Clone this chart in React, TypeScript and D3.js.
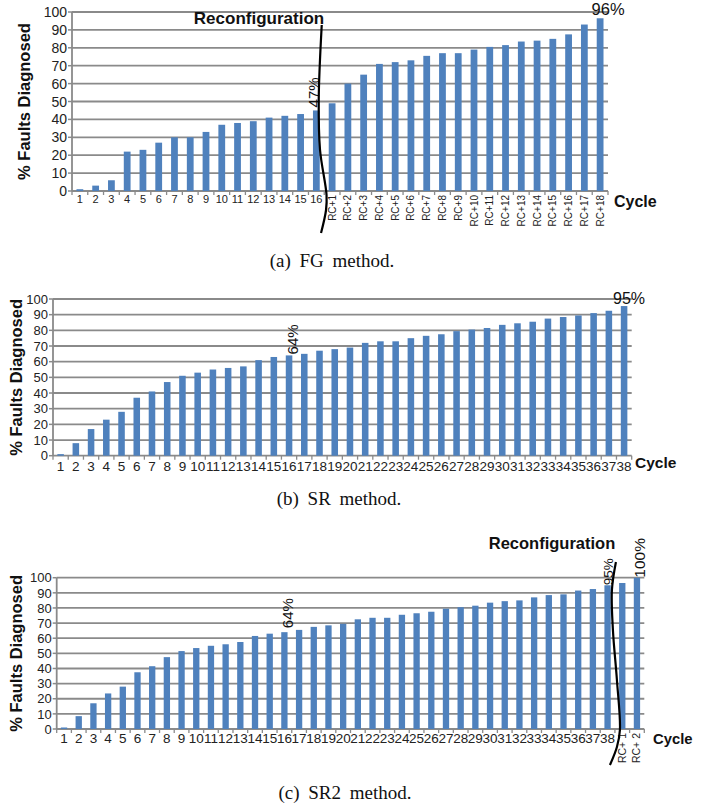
import React from "react";
import * as d3 from "d3";

// y axis ticks shared by all three panels
const yTicks = [0, 10, 20, 30, 40, 50, 60, 70, 80, 90, 100];

// (a) FG method
const fgCycles = [
  "1", "2", "3", "4", "5", "6", "7", "8", "9", "10", "11", "12", "13", "14", "15", "16",
  "RC+1", "RC+2", "RC+3", "RC+4", "RC+5", "RC+6", "RC+7", "RC+8", "RC+9", "RC+10",
  "RC+11", "RC+12", "RC+13", "RC+14", "RC+15", "RC+16", "RC+17", "RC+18",
];
const fgValues = [
  1, 3, 6, 22, 23, 27, 30, 30, 33, 37, 38, 39, 41, 42, 43, 45,
  49, 60, 65, 71, 72, 73, 75.5, 77, 77, 79, 80.5, 81.5, 83.5, 84, 85, 87.5, 93, 96.5,
];

// (b) SR method
const srCycles = [
  "1", "2", "3", "4", "5", "6", "7", "8", "9", "10", "11", "12", "13", "14", "15", "16",
  "17", "18", "19", "20", "21", "22", "23", "24", "25", "26", "27", "28", "29", "30",
  "31", "32", "33", "34", "35", "36", "37", "38",
];
const srValues = [
  1, 8, 17, 23, 28, 37, 41, 47, 51, 53, 55, 56, 57, 61, 63, 64, 65, 67, 68, 69,
  72, 73, 73, 75, 76.5, 77.5, 79.5, 80.5, 81.5, 83.5, 84.5, 85.5, 87.5, 88.5, 89.5, 91, 92.5, 95.5,
];

// (c) SR2 method
const sr2Cycles = [...srCycles, "RC+ 1", "RC+ 2"];
const sr2Values = [
  1, 8.5, 17, 23.5, 28, 37.5, 41.5, 47.5, 51.5, 53.5, 55, 56, 57.5, 61.5, 63, 64, 65.5, 67.5, 68.5, 69.5,
  72.5, 73.5, 73.5, 75.5, 76.5, 77.5, 79.5, 80.5, 81.5, 83.5, 84.5, 85, 87, 88.5, 89, 91.5, 92.5, 95, 96.5, 100,
];

const SANS = "'Liberation Sans', Arial, sans-serif";
const SERIF = "'Liberation Serif', 'Times New Roman', serif";
const BAR = "#4F81BD";
const GRID = "#8a8a8a";

type Note = { text: string; cat: string; rotate: boolean; dx: number; dy: number; size: number };

type PanelProps = {
  cycles: string[];
  values: number[];
  left: number;
  right: number;
  top: number;
  bottom: number;
  yFont: number;
  xFont: number;
  xBaseline: number;
  rcFont: number;
  rcShift: number;
  yLabelX: number;
  cycleX: number;
  cycleBaseline: number;
  cycleFont: number;
  notes: Note[];
  reconf?: { x: number; baseline: number; size: number; wiggle: [number, number][] };
  caption: string;
  captionX: number;
  captionBaseline: number;
};

const Panel = (p: PanelProps) => {
  const x = d3.scaleBand().domain(p.cycles).range([p.left, p.right]).padding(0);
  const y = d3.scaleLinear().domain([0, 100]).range([p.bottom, p.top]);
  const bw = x.bandwidth() * 0.43;
  const cx = (c: string) => (x(c) as number) + x.bandwidth() / 2;
  const valOf = (c: string) => p.values[p.cycles.indexOf(c)];

  let curve: string | null = null;
  if (p.reconf) {
    const firstRC = p.cycles.find((c) => c.startsWith("RC")) as string;
    const bx = x(firstRC) as number;
    curve = d3
      .line<[number, number]>()
      .x((d) => bx + d[0])
      .y((d) => p.bottom + d[1])
      .curve(d3.curveCatmullRom)(p.reconf.wiggle);
  }

  const yMid = (p.top + p.bottom) / 2;

  return (
    <g>
      {yTicks.map((t) => (
        <g key={t}>
          <line x1={p.left} x2={p.right} y1={y(t)} y2={y(t)} stroke={GRID} strokeWidth={1.8} />
          <line x1={p.left - 4} x2={p.left} y1={y(t)} y2={y(t)} stroke={GRID} strokeWidth={1.5} />
          <text
            x={p.left - 5}
            y={y(t)}
            dy="0.36em"
            textAnchor="end"
            fontFamily={SANS}
            fontSize={p.yFont}
            fill="#222"
          >
            {t}
          </text>
        </g>
      ))}
      <line x1={p.left} x2={p.left} y1={p.top} y2={p.bottom} stroke={GRID} strokeWidth={1.8} />
      {[...p.cycles, null].map((c, i) => {
        const xx = c === null ? p.right : (x(c) as number);
        return <line key={i} x1={xx} x2={xx} y1={p.bottom} y2={p.bottom + 4} stroke={GRID} strokeWidth={1.3} />;
      })}

      {p.cycles.map((c, i) => (
        <rect
          key={c}
          x={cx(c) - bw / 2}
          y={y(p.values[i])}
          width={bw}
          height={y(0) - y(p.values[i])}
          fill={BAR}
        />
      ))}

      {p.cycles.map((c) =>
        c.startsWith("RC") ? (
          <text
            key={c}
            transform={`translate(${cx(c) + p.rcShift},${p.bottom + 4}) rotate(-90)`}
            textAnchor="end"
            fontFamily={SANS}
            fontSize={p.rcFont}
            fill="#222"
          >
            {c}
          </text>
        ) : (
          <text
            key={c}
            x={cx(c)}
            y={p.xBaseline}
            textAnchor="middle"
            fontFamily={SANS}
            fontSize={p.xFont}
            fill="#222"
          >
            {c}
          </text>
        )
      )}

      <text
        transform={`translate(${p.yLabelX},${yMid}) rotate(-90)`}
        textAnchor="middle"
        fontFamily={SANS}
        fontWeight="bold"
        fontSize={16.5}
        fill="#111"
      >
        % Faults Diagnosed
      </text>

      <text x={p.cycleX} y={p.cycleBaseline} fontFamily={SANS} fontWeight="bold" fontSize={p.cycleFont} fill="#111">
        Cycle
      </text>

      {p.notes.map((n) => {
        const nx = cx(n.cat) + n.dx;
        const ny = y(valOf(n.cat)) + n.dy;
        return n.rotate ? (
          <text
            key={n.text}
            transform={`translate(${nx},${ny}) rotate(-90)`}
            textAnchor="start"
            fontFamily={SANS}
            fontSize={n.size}
            fill="#111"
          >
            {n.text}
          </text>
        ) : (
          <text key={n.text} x={nx} y={ny} textAnchor="middle" fontFamily={SANS} fontSize={n.size} fill="#111">
            {n.text}
          </text>
        );
      })}

      {p.reconf && (
        <>
          <text
            x={p.reconf.x}
            y={p.reconf.baseline}
            textAnchor="middle"
            fontFamily={SANS}
            fontWeight="bold"
            fontSize={p.reconf.size}
            fill="#111"
          >
            Reconfiguration
          </text>
          <path d={curve as string} fill="none" stroke="#000" strokeWidth={2.2} />
        </>
      )}

      <text
        x={p.captionX}
        y={p.captionBaseline}
        textAnchor="middle"
        fontFamily={SERIF}
        fontSize={19}
        wordSpacing={4}
        fill="#111"
      >
        {p.caption}
      </text>
    </g>
  );
};

const App = () => (
  <svg width={716} height={809} style={{ position: "absolute", left: 0, top: 0, background: "#fff" }}>
    <Panel
      cycles={fgCycles}
      values={fgValues}
      left={72}
      right={608}
      top={12}
      bottom={191}
      yFont={14}
      xFont={11}
      xBaseline={203}
      rcFont={10}
      rcShift={3.5}
      yLabelX={29.5}
      cycleX={614}
      cycleBaseline={207}
      cycleFont={16}
      notes={[
        { text: "47%", cat: "16", rotate: true, dx: 3, dy: -3, size: 15 },
        { text: "96%", cat: "RC+18", rotate: false, dx: 8, dy: -3, size: 16.5 },
      ]}
      reconf={{
        x: 259,
        baseline: 23.5,
        size: 17,
        wiggle: [
          [-2.5, -166],
          [-5.5, -91],
          [-4.2, -41],
          [2.3, 4],
          [1.8, 19],
          [-3.2, 42],
        ],
      }}
      caption="(a) FG method."
      captionX={332}
      captionBaseline={267}
    />
    <Panel
      cycles={srCycles}
      values={srValues}
      left={53}
      right={631.7}
      top={299}
      bottom={455.7}
      yFont={13}
      xFont={13.5}
      xBaseline={470.5}
      rcFont={10}
      rcShift={3.5}
      yLabelX={21.5}
      cycleX={635}
      cycleBaseline={467.5}
      cycleFont={15.5}
      notes={[
        { text: "64%", cat: "16", rotate: true, dx: 9, dy: -1, size: 15 },
        { text: "95%", cat: "38", rotate: false, dx: 5, dy: -2, size: 16 },
      ]}
      caption="(b) SR method."
      captionX={339}
      captionBaseline={505}
    />
    <Panel
      cycles={sr2Cycles}
      values={sr2Values}
      left={56.7}
      right={644.3}
      top={577.7}
      bottom={729}
      yFont={13}
      xFont={13.5}
      xBaseline={743}
      rcFont={10.5}
      rcShift={3.5}
      yLabelX={21.5}
      cycleX={653}
      cycleBaseline={744}
      cycleFont={14.8}
      notes={[
        { text: "64%", cat: "16", rotate: true, dx: 8.5, dy: -4, size: 15 },
        { text: "95%", cat: "38", rotate: true, dx: 5.5, dy: 0, size: 13.5 },
        { text: "100%", cat: "RC+ 2", rotate: true, dx: 8, dy: 0, size: 15.5 },
      ]}
      reconf={{
        x: 552,
        baseline: 549,
        size: 16.5,
        wiggle: [
          [1, -167],
          [-3, -139],
          [-2, -99],
          [2, -49],
          [5, 1],
          [2, 18],
          [-5, 36],
        ],
      }}
      caption="(c) SR2 method."
      captionX={345}
      captionBaseline={799}
    />
  </svg>
);

export default App;
